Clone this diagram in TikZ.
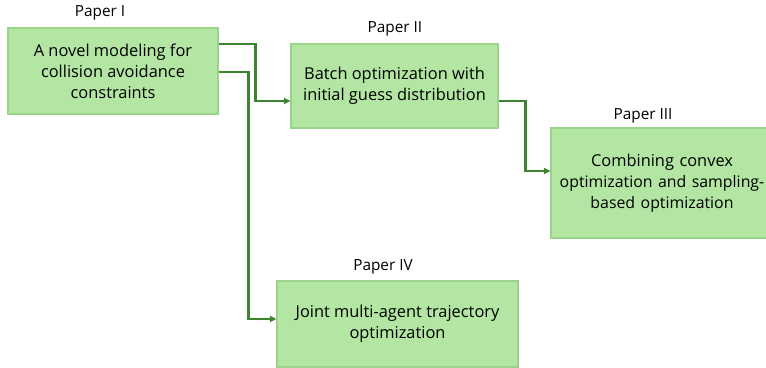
\documentclass[tikz,border=0pt]{standalone}
\usepackage{fontspec}
\setmainfont{Open Sans}
\usepackage{xcolor}
\usetikzlibrary{positioning,arrows.meta}
\definecolor{paperfill}{HTML}{B3E6A3}
\definecolor{paperline}{HTML}{9AD48A}
\definecolor{linkgreen}{HTML}{3C8430}

\begin{document}
\begin{tikzpicture}[x=0.75pt, y=-0.75pt,
    every node/.style={align=center, font=\fontsize{12.3}{15.75}\selectfont},
    paper/.style={draw=paperline, fill=paperfill, line width=0.8pt, inner sep=0pt},
    title/.style={font=\fontsize{11.5}{14}\selectfont},
    link/.style={-{Triangle[length=5pt,width=4.5pt]}, draw=linkgreen, line width=1.6pt}]
                \clip (0,0) rectangle (766,367);
                \useasboundingbox (0,0) rectangle (766,367);

                \node[paper, minimum width=157.5pt, minimum height=64.5pt] (novel) at (113,71) {
                    A novel modeling for\\
                    collision avoidance\\
                    constraints
                };
                \node[paper, minimum width=155.25pt, minimum height=63pt] (batch) at (394.5,86) {
                    Batch optimization with\\
                    initial guess distribution
                };
                \node[paper, minimum width=172.5pt, minimum height=82.5pt, text width=172.5pt] (combo) at (666,183) {
                    \hspace*{-6pt}Combining convex\\
                    \hspace*{-6pt}\fontsize{11.9}{15.75}\selectfont optimization and sampling-\\
                    \hspace*{-6pt}based optimization
                };
                \node[paper, minimum width=180.75pt, minimum height=64.5pt] (joint) at (397.5,324) {
                    Joint multi-agent trajectory\\
                    optimization
                };

                \node[title] (novel-title) at (100,13) {Paper I};
                \node[title] (batch-title) at (395,29) {Paper II};
                \node[title] (combo-title) at (643,116) {Paper III};
                \node[title] (joint-title) at (383,267) {Paper IV};

                \draw[link] ([yshift=20.25pt]novel.east) -- ++(37,0) |- ([yshift=-11.25pt]batch.west);
                \draw[link] ([yshift=-1pt]novel.east) -- ++(30,0) |- ([yshift=3.75pt]joint.west);
                \draw[link] ([yshift=-11.25pt]batch.east) -- ++(27,0) |- ([yshift=9pt]combo.west);
            \end{tikzpicture}
\end{document}
